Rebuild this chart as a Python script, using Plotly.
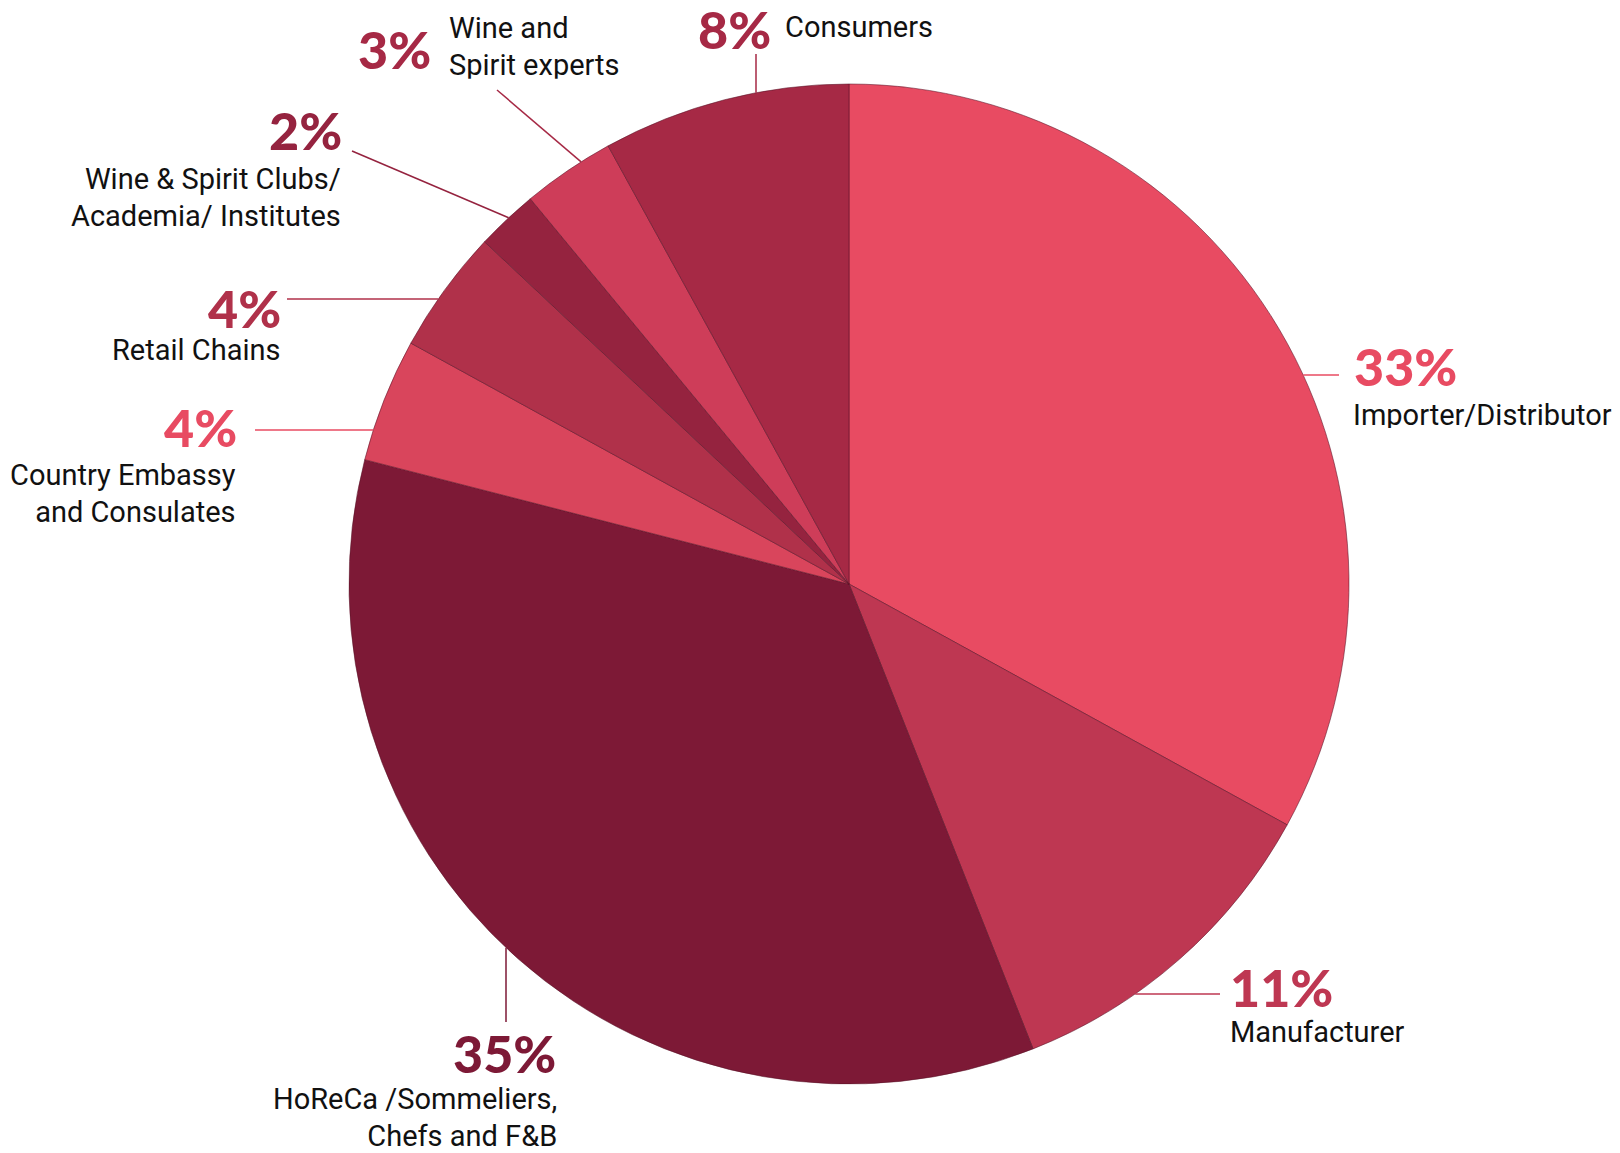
import math
import plotly.graph_objects as go

# ---- data ----
categories = [
    "Importer/Distributor",
    "Manufacturer",
    "HoReCa /Sommeliers, Chefs and F&B",
    "Country Embassy and Consulates",
    "Retail Chains",
    "Wine & Spirit Clubs/ Academia/ Institutes",
    "Wine and Spirit experts",
    "Consumers",
]
values = [33, 11, 35, 4, 4, 2, 3, 8]
pct_labels = ["33%", "11%", "35%", "4%", "4%", "2%", "3%", "8%"]
label_lines = [
    ["Importer/Distributor"],
    ["Manufacturer"],
    ["HoReCa /Sommeliers,", "Chefs and F&B"],
    ["Country Embassy", "and Consulates"],
    ["Retail Chains"],
    ["Wine & Spirit Clubs/", "Academia/ Institutes"],
    ["Wine and", "Spirit experts"],
    ["Consumers"],
]
slice_colors = ["#E84B62", "#BE3752", "#7D1936", "#D9455C",
                "#B0314A", "#95233F", "#CE3D59", "#A62945"]
pct_colors = ["#E84B62", "#BE3752", "#7D1936", "#E84B62",
              "#B0314A", "#95233F", "#A62945", "#A62945"]

# ---- layout (pixels, in page coordinates) ----
PAGE_OFF = 8            # default body margin of the html page
W, H = 1620 - PAGE_OFF, 1153 - PAGE_OFF
CX, CY, R = 849, 584, 500

def px(x, y):
    return (x - PAGE_OFF) / W, 1 - (y - PAGE_OFF) / H

placement = [
    dict(px=(1353, 385, "left"), tx=(1352, [424], "left"), lead=((1339, 375), "h")),
    dict(px=(1229, 1006, "left"), tx=(1229, [1041], "left"), lead=((1220, 994), "h")),
    dict(px=(557, 1072, "right"), tx=(558, [1109, 1146], "right"), lead=((506, 1022), "v")),
    dict(px=(238, 446, "right"), tx=(237, [485, 522], "right"), lead=((255, 430), "h")),
    dict(px=(282, 327, "right"), tx=(281, [359], "right"), lead=((287, 299), "h")),
    dict(px=(343, 149, "right"), tx=(342, [189, 226], "right"), lead=((352, 151), 317.1)),
    dict(px=(432, 68, "right"), tx=(448, [38, 75], "left"), lead=((497, 90), 327.6)),
    dict(px=(772, 48, "right"), tx=(784, [36], "left"), lead=((756, 54), "v")),
]

PCT_SIZE = 52
TXT_SIZE = 29
PCT_FONT = "Lato, Roboto, sans-serif"
TXT_FONT = "Roboto, sans-serif"

x0d, _ = px(CX - R, 0)
x1d, _ = px(CX + R, 0)
_, y1d = px(0, CY - R)
_, y0d = px(0, CY + R)

fig = go.Figure(go.Pie(
    labels=categories,
    values=values,
    sort=False,
    direction="clockwise",
    rotation=0,
    textinfo="none",
    hoverinfo="label+percent",
    marker=dict(colors=slice_colors, line=dict(color="rgba(90,20,40,0.55)", width=1)),
    domain=dict(x=[x0d, x1d], y=[y0d, y1d]),
    showlegend=False,
))

annotations = []
shapes = []
for i, p in enumerate(placement):
    x, base, anc = p["px"]
    cy = base - 0.36 * PCT_SIZE
    ax, ay = px(x, cy)
    annotations.append(dict(
        x=ax, y=ay, xref="paper", yref="paper", xanchor=anc, yanchor="middle",
        text=pct_labels[i], showarrow=False, height=40, valign="middle",
        font=dict(family=PCT_FONT, size=PCT_SIZE, color=pct_colors[i], weight=900),
        borderpad=0,
    ))
    x, bases, anc = p["tx"]
    n = len(bases)
    cy = sum(bases) / n - 0.34 * TXT_SIZE
    ax, ay = px(x, cy)
    annotations.append(dict(
        x=ax, y=ay, xref="paper", yref="paper", xanchor=anc, yanchor="middle",
        align=anc, text="<br>".join(label_lines[i]), showarrow=False,
        height=(n - 1) * 1.3 * TXT_SIZE + 27, valign="middle",
        font=dict(family=TXT_FONT, size=TXT_SIZE, color="#111111"),
        borderpad=0,
    ))
    (ox, oy), kind = p["lead"]
    if kind == "h":
        dy = oy - CY
        dx = math.sqrt(R * R - dy * dy)
        ex = CX + dx if ox > CX else CX - dx
        ey = oy
    elif kind == "v":
        dx = ox - CX
        dy = math.sqrt(R * R - dx * dx)
        ex = ox
        ey = CY + dy if oy > CY else CY - dy
    else:
        a = math.radians(kind)
        ex = CX + R * math.sin(a)
        ey = CY - R * math.cos(a)
    lx0, ly0 = px(ox, oy)
    lx1, ly1 = px(ex, ey)
    shapes.append(dict(type="line", xref="paper", yref="paper",
                       x0=lx0, y0=ly0, x1=lx1, y1=ly1,
                       line=dict(color=pct_colors[i], width=1.5)))

fig.update_layout(
    width=W, height=H,
    margin=dict(l=0, r=0, t=0, b=0),
    paper_bgcolor="white", plot_bgcolor="white",
    annotations=annotations,
    shapes=shapes,
)

fig.write_html("out.html")
